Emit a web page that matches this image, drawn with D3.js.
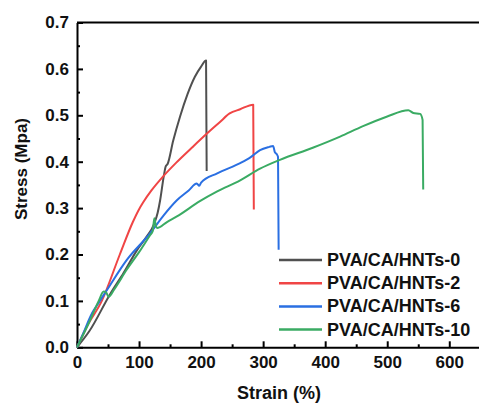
<!DOCTYPE html>
<html>
<head>
<meta charset="utf-8">
<script src="https://cdn.jsdelivr.net/npm/d3@7"></script>
<style>
  body { margin: 0; background: #fff; }
  text { font-family: Arial, "Liberation Sans", sans-serif; font-weight: bold; }
</style>
</head>
<body>
<div id="chart"></div>
<script>
const seriesNames = ['PVA/CA/HNTs-0', 'PVA/CA/HNTs-2', 'PVA/CA/HNTs-6', 'PVA/CA/HNTs-10']
const seriesColors = ['#505050', '#f04545', '#2a6fe2', '#3aab63']

// strain (%) , stress (MPa)
const hnts0 = [[0,0],[20,0.035],[54,0.116],[75,0.16],[97,0.21],[112,0.238],[124,0.265],[130,0.29],[134,0.317],
  [140,0.37],[143,0.39],[146,0.395],[155,0.445],[166,0.497],[178,0.545],[190,0.583],[200,0.605],[208,0.618],[209,0.38]]
const hnts2 = [[0,0],[16,0.045],[40,0.1],[69,0.2],[90,0.27],[99,0.295],[107,0.313],[120,0.338],
  [140,0.37],[160,0.398],[185,0.43],[209,0.46],[230,0.485],[246,0.504],[263,0.513],[284,0.523],[285,0.297]]
const hnts6 = [[0,0],[10,0.03],[24,0.073],[32,0.09],[48,0.123],[80,0.188],[118,0.246],[140,0.285],[161,0.317],
  [180,0.338],[193,0.353],[197,0.348],[200,0.355],[226,0.375],[263,0.397],[280,0.41],
  [295,0.425],[310,0.432],[316,0.434],[319,0.42],[322,0.416],[324,0.41],[325,0.21]]
const hnts10 = [[0,0],[20,0.055],[35,0.1],[43,0.12],[47,0.118],[51,0.109],[60,0.125],[80,0.167],[100,0.205],
  [118,0.242],[122,0.25],[124.6,0.278],[127,0.262],[129,0.257],[145,0.27],[161,0.282],[198,0.315],
  [226,0.336],[263,0.36],[295,0.385],[327,0.404],[380,0.43],[424,0.454],[460,0.476],[499,0.497],[534,0.511],
  [542,0.505],[553,0.503],[557,0.49],[558,0.34]]
const allSeries = [hnts0, hnts2, hnts6, hnts10]

const xTicks = [0, 100, 200, 300, 400, 500, 600]
const yTicks = [0, 0.1, 0.2, 0.3, 0.4, 0.5, 0.6, 0.7]

const width = 479
const height = 403

const svg = d3.select('#chart')
  .append('svg')
  .attr('width', width)
  .attr('height', height)

const x = d3.scaleLinear().domain([0, 650]).range([77, 480.3])
const y = d3.scaleLinear().domain([0, 0.7]).range([347.3, 22.5])

// minor ticks (inward)
svg.append('g')
  .attr('transform', 'translate(0,' + y(0) + ')')
  .call(d3.axisBottom(x).tickValues(d3.range(50, 650, 100)).tickSize(-3).tickFormat(''))
  .call(g => g.select('.domain').remove())
  .selectAll('line').attr('stroke', '#000').attr('stroke-width', 2)
svg.append('g')
  .attr('transform', 'translate(' + x(0) + ',0)')
  .call(d3.axisLeft(y).tickValues(d3.range(0.05, 0.7, 0.1)).tickSize(-3).tickFormat(''))
  .call(g => g.select('.domain').remove())
  .selectAll('line').attr('stroke', '#000').attr('stroke-width', 2)

// major axes
const xAxis = svg.append('g')
  .attr('transform', 'translate(0,' + y(0) + ')')
  .call(d3.axisBottom(x).tickValues(xTicks).tickSize(-6).tickPadding(9).tickSizeOuter(0))
xAxis.select('.domain').attr('stroke-width', 2)
xAxis.selectAll('line').attr('stroke-width', 2)
xAxis.selectAll('text').attr('font-size', 17).attr('fill', '#111')

const yAxis = svg.append('g')
  .attr('transform', 'translate(' + x(0) + ',0)')
  .call(d3.axisLeft(y).tickValues(yTicks).tickSize(-6).tickPadding(8).tickSizeOuter(0)
    .tickFormat(d3.format('.1f')))
yAxis.select('.domain').attr('stroke-width', 2)
yAxis.selectAll('line').attr('stroke-width', 2)
yAxis.selectAll('text').attr('font-size', 17).attr('fill', '#111')

// top frame
svg.append('line')
  .attr('x1', x(0)).attr('x2', x(650))
  .attr('y1', y(0.7)).attr('y2', y(0.7))
  .attr('stroke', '#000').attr('stroke-width', 2)

// curves
const line = d3.line().x(d => x(d[0])).y(d => y(d[1])).curve(d3.curveMonotoneX)
svg.selectAll('.curve')
  .data(allSeries)
  .enter()
  .append('path')
  .attr('class', 'curve')
  .attr('d', line)
  .attr('fill', 'none')
  .attr('stroke', (d, i) => seriesColors[i])
  .attr('stroke-width', 2)
  .attr('stroke-linejoin', 'round')

// axis titles
svg.append('text')
  .text('Strain (%)')
  .attr('x', 279)
  .attr('y', 399)
  .attr('text-anchor', 'middle')
  .attr('font-size', 18)
  .attr('fill', '#111')

svg.append('text')
  .text('Stress (Mpa)')
  .attr('transform', 'translate(27,169) rotate(-90)')
  .attr('text-anchor', 'middle')
  .attr('font-size', 17)
  .attr('fill', '#111')

// legend
const legend = svg.append('g').attr('transform', 'translate(279,260)')
legend.selectAll('.legend-entry')
  .data(seriesNames)
  .enter()
  .append('g')
  .attr('class', 'legend-entry')
  .attr('transform', (d, i) => `translate(0,${i * 23.2})`)
  .each(function(d, i) {
    const g = d3.select(this)
    g.append('line')
      .attr('x1', 0).attr('x2', 43)
      .attr('stroke', seriesColors[i])
      .attr('stroke-width', 2.5)
    g.append('text')
      .text(d)
      .attr('x', 48)
      .attr('y', 6)
      .attr('font-size', 18)
      .attr('fill', '#111')
  })
</script>
</body>
</html>
